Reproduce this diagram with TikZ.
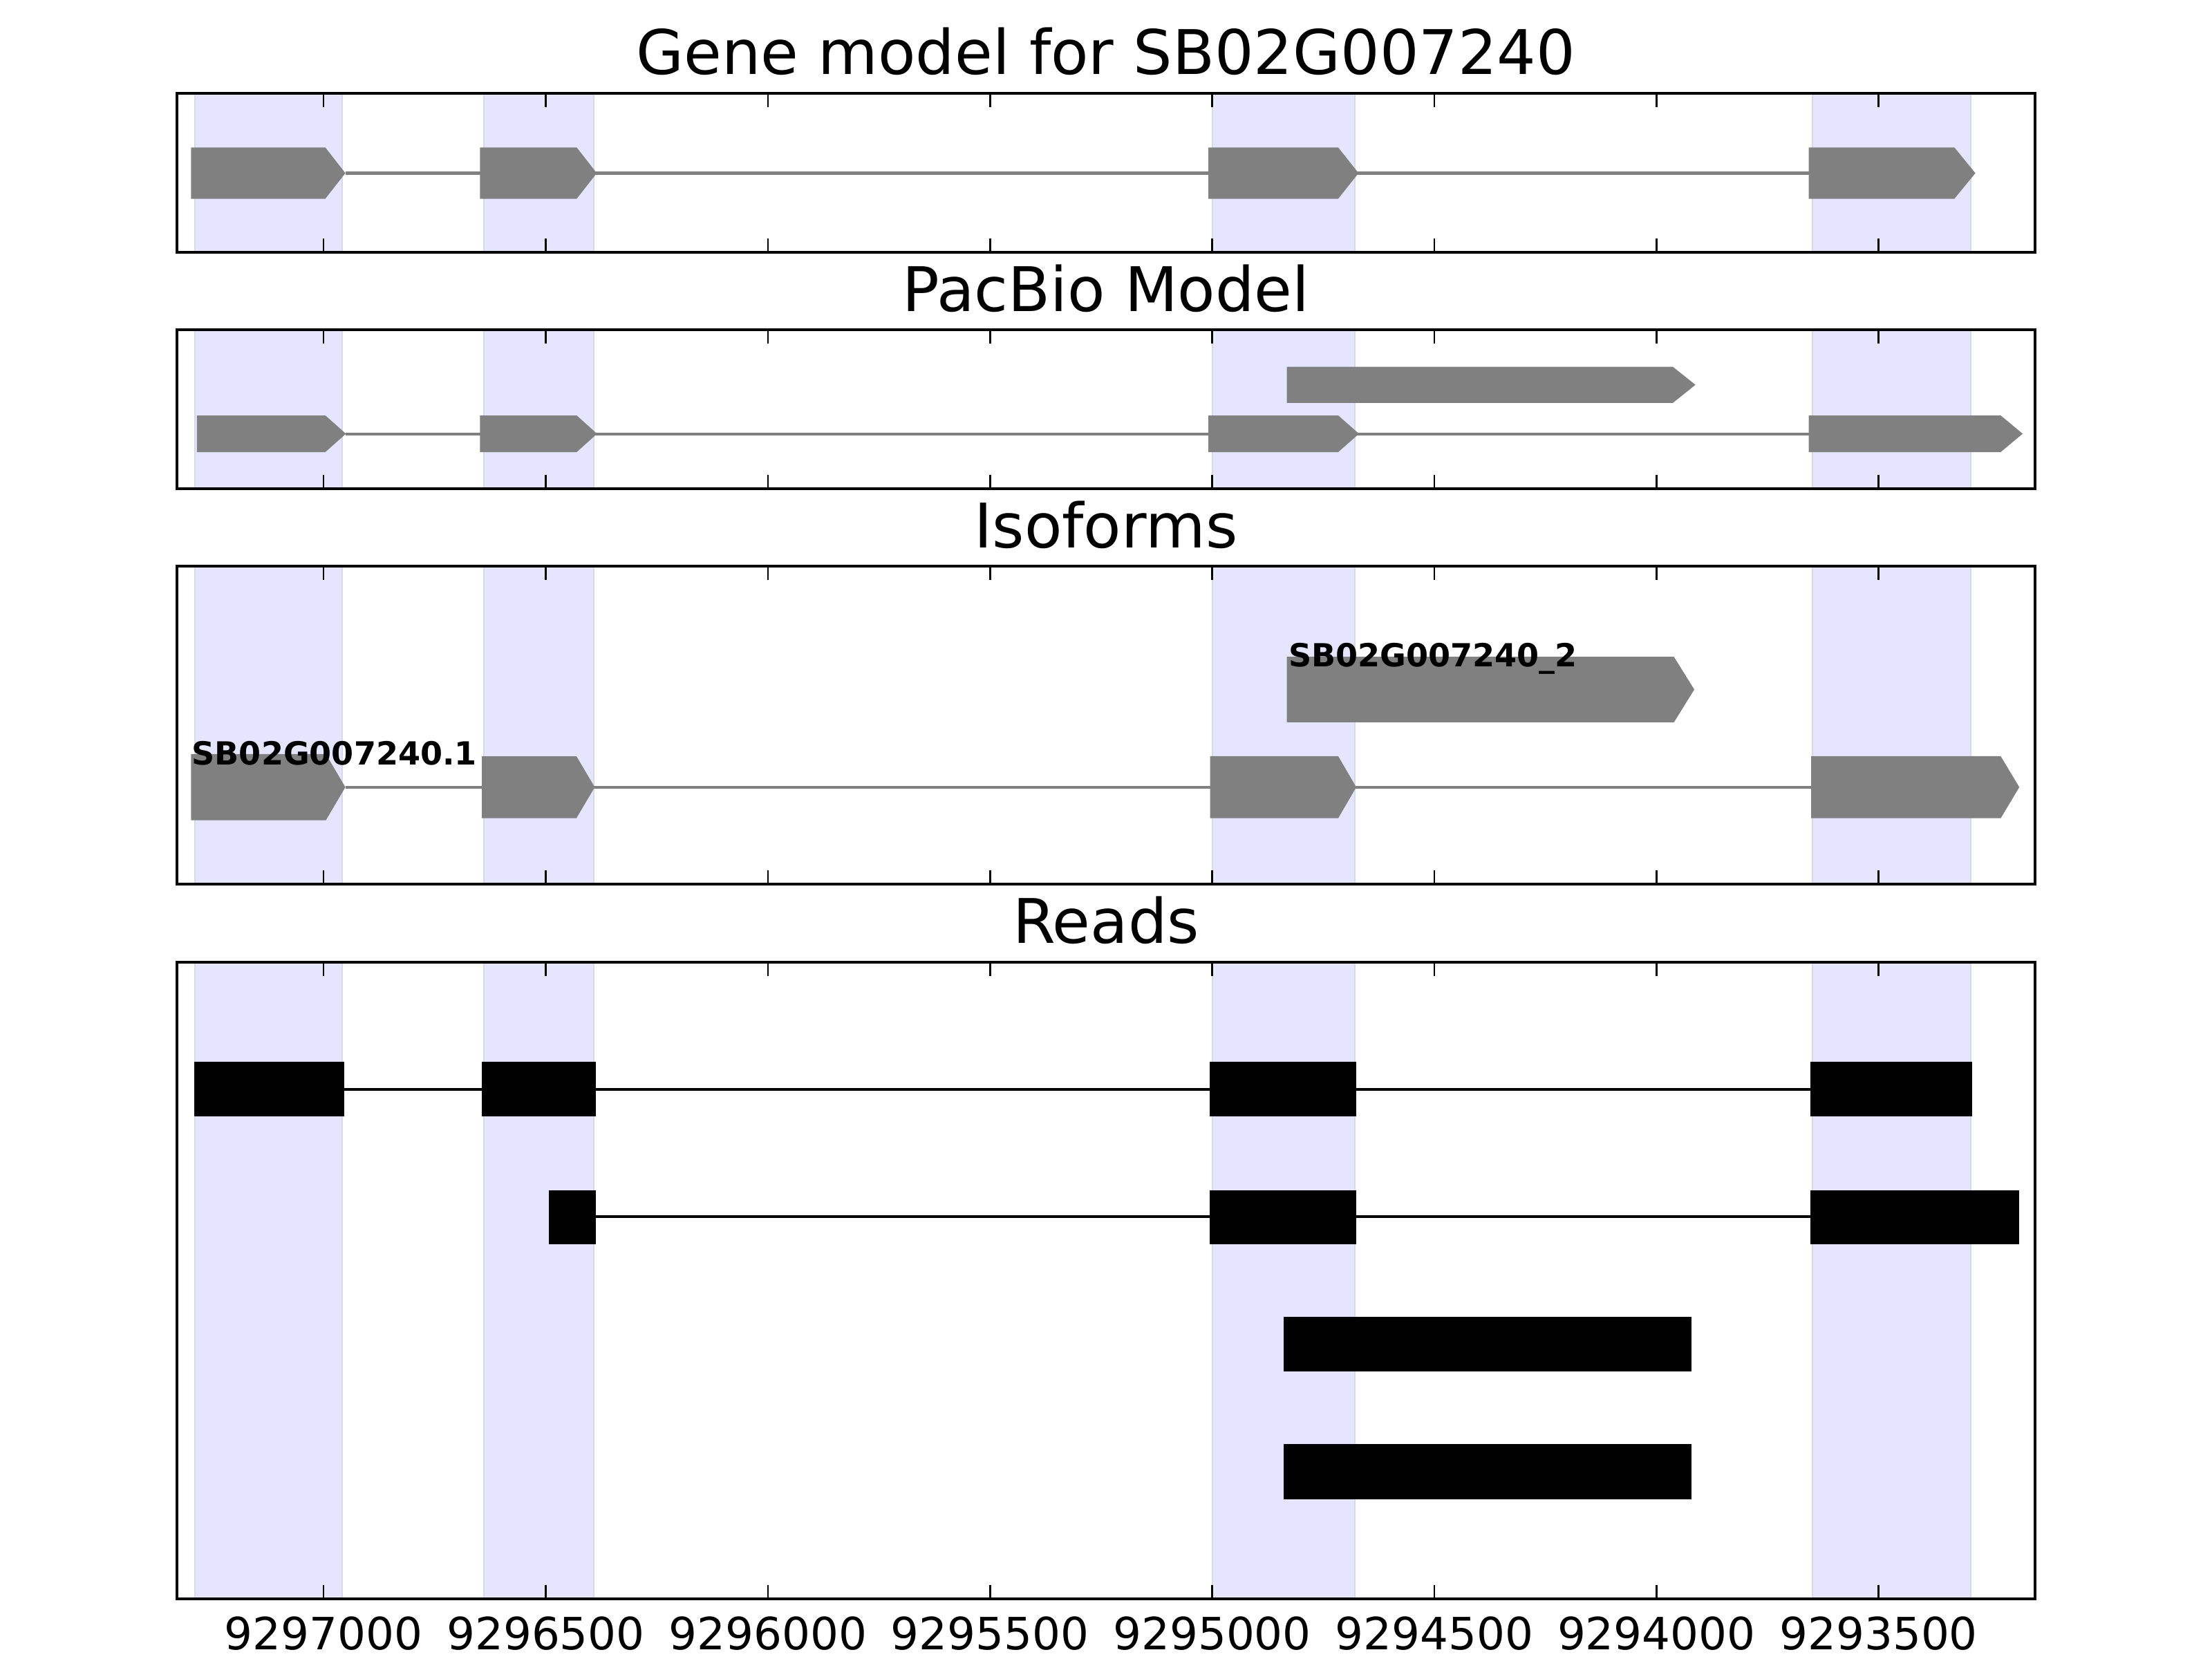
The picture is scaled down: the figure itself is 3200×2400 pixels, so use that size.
\documentclass[tikz,border=0pt]{standalone}
\usepackage{fontspec}
\setmainfont{DejaVu Sans}
\usepackage{xcolor}
\usepackage{tikz}

\definecolor{spanfill}{HTML}{E5E5FF}
\definecolor{spanedge}{HTML}{D8D8EC}
\definecolor{exongray}{HTML}{808080}

\begin{document}
\begin{tikzpicture}[x=0.01cm, y=-0.01cm,
	span/.style={fill=spanfill, draw=spanedge, line width=0.02cm},
	frame/.style={draw=black, line width=0.04cm},
	tick/.style={black, line width=0.025cm},
	exon/.style={fill=exongray},
	intron/.style={draw=exongray, line width=0.04cm},
	read/.style={fill=black},
	readline/.style={draw=black, line width=0.04cm},
	paneltitle/.style={anchor=base, inner sep=0pt, font=\fontsize{25.3}{30}\selectfont},
	ticklabel/.style={anchor=base, inner sep=0pt, font=\fontsize{18.3}{22}\selectfont},
	isolabel/.style={anchor=base west, inner sep=0pt, font=\fontsize{13.1}{16}\selectfont\bfseries}]
		\useasboundingbox (0,0) rectangle (3200,2400);
		
		% shaded exon columns in every panel
		\foreach \ya/\yb in {135/365, 476.7/707, 819/1279, 1391.5/2313}{
			\foreach \l/\r in {282/495.2, 700/859, 1753.5/1960, 2621.7/2851.4}
				\filldraw[span] (\l,\ya) rectangle (\r,\yb);
		}
		
		% gene model
		\draw[intron] (499.6,250.5) -- (2616.7,250.5);
		\foreach \a/\b/\c in {276.3/470.6/499.6, 694.3/834.3/863.3, 1748.2/1935.9/1965.3, 2616.7/2827.3/2857.6}
			\fill[exon] (\a,213.3) -- (\b,213.3) -- (\c,250.5) -- (\b,287.5) -- (\a,287.5) -- cycle;
		
		% pacbio model
		\fill[exon] (1861.6,530.6) -- (2420,530.6) -- (2452.7,556.7) -- (2420,582.9) -- (1861.6,582.9) -- cycle;
		\draw[intron] (500.4,627.5) -- (2616.7,627.5);
		\foreach \a/\b/\c in {284.9/470.6/500.4, 694.3/834.3/863.7, 1748.2/1935.9/1966, 2616.7/2894.3/2926.1}
			\fill[exon] (\a,601) -- (\b,601) -- (\c,627.5) -- (\b,654) -- (\a,654) -- cycle;
		
		% isoforms
		\fill[exon] (1861.6,950.2) -- (2421.6,950.2) -- (2451,997.5) -- (2421.6,1044.9) -- (1861.6,1044.9) -- cycle;
		\draw[intron] (499.6,1138.8) -- (2620,1138.8);
		\foreach \a/\b/\c/\ya/\yb in {276.3/471.4/499.6/1090.8/1186.7, 697.1/833.9/860.4/1094/1183.5, 1750.6/1935.9/1962/1093.9/1183.7, 2620/2894.3/2921.2/1093.9/1183.7}
			\fill[exon] (\a,\ya) -- (\b,\ya) -- (\c,1138.8) -- (\b,\yb) -- (\a,\yb) -- cycle;
		\node[isolabel] (isoone) at (277,1106.3) {SB02G007240.1};
		\node[isolabel] (isotwo) at (1863.5,964.9) {SB02G007240\_2};
		
		% reads
		\draw[readline] (497.5,1575.8) -- (2619.4,1575.8);
		\foreach \l/\r in {281.4/497.5, 696.7/861.5, 1749.8/1962.4, 2619.4/2852.6}
			\fill[read] (\l,1536.4) rectangle (\r,1615.3);
		\draw[readline] (861.5,1759.5) -- (2619.4,1759.5);
		\foreach \l/\r in {793.5/861.5, 1749.8/1962.4, 2619.4/2920.7}
			\fill[read] (\l,1721.5) rectangle (\r,1799.6);
		\fill[read] (1857.1,1904.7) rectangle (2447.1,1984);
		\fill[read] (1857.1,2089.2) rectangle (2447.1,2168.5);
		
		% frames and ticks
		\foreach \ya/\yb in {135/365, 476.7/707, 819/1279, 1391.5/2313}{
			\draw[frame] (255.5,\ya) rectangle (2944,\yb);
			\foreach \i in {0,...,7}{
				\draw[tick] ({468.2+321.35*\i},\ya) -- ++(0,20);
				\draw[tick] ({468.2+321.35*\i},\yb) -- ++(0,-20);
			}
		}
		
		\foreach \i/\v in {0/9297000, 1/9296500, 2/9296000, 3/9295500, 4/9295000, 5/9294500, 6/9294000, 7/9293500}
			\node[ticklabel] (tick\i) at ({468.2+321.35*\i},2386.5) {\v};
		
		\node[paneltitle] (genetitle) at (1600,107.8) {Gene model for SB02G007240};
		\node[paneltitle] (pacbiotitle) at (1600,450) {PacBio Model};
		\node[paneltitle] (isotitle) at (1600,792) {Isoforms};
		\node[paneltitle] (readstitle) at (1600,1364) {Reads};
	\end{tikzpicture}
\end{document}
